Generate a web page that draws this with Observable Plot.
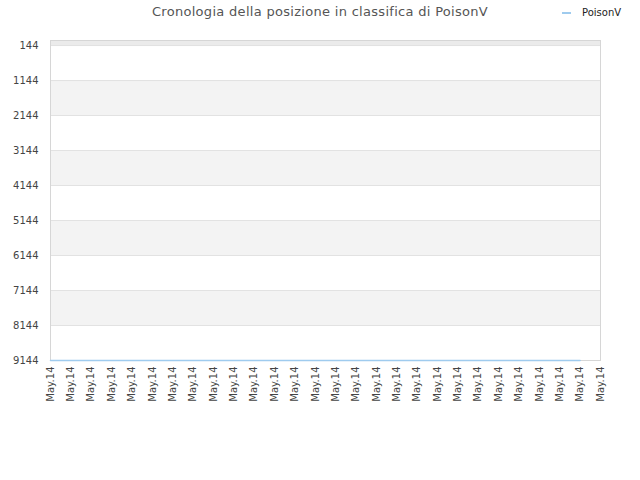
<!DOCTYPE html>
<html><head><meta charset="utf-8">
<script src="https://cdn.jsdelivr.net/npm/d3@7"></script>
<script src="https://cdn.jsdelivr.net/npm/@observablehq/plot@0.6"></script>
<style>
body{margin:0;background:#fff;font-family:"DejaVu Sans",sans-serif;}
#wrap{position:relative;width:640px;height:480px;}
#title{position:absolute;top:4px;left:0;width:640px;text-align:center;font-size:13px;letter-spacing:0.3px;color:#555;}
#legend{position:absolute;top:7px;left:562px;font-size:10px;color:#222;display:flex;align-items:center;}
#legend span.sw{display:inline-block;width:9px;height:2px;background:#9fcbee;margin-right:11px;}
#chart{position:absolute;top:0;left:0;}
</style></head>
<body>
<div id="wrap">
<div id="chart"></div>
<div id="title">Cronologia della posizione in classifica di PoisonV</div>
<div id="legend"><span class="sw"></span>PoisonV</div>
</div>
<script>
const xLabels = Array(28).fill("May.14");
const seriesName = "PoisonV";
const positions = [9144,9144,9144,9144,9144,9144,9144,9144,9144,9144,9144,9144,9144,9144,9144,9144,9144,9144,9144,9144,9144,9144,9144,9144,9144,9144,9144];
const yTicks = [144,1144,2144,3144,4144,5144,6144,7144,8144,9144];
const bandStarts = [0,1144,3144,5144,7144];
const bandEnds = [144,2144,4144,6144,8144];

const data = positions.map((v,i)=>({i, v}));
const bands = bandStarts.map((s,k)=>({y1:s, y2:bandEnds[k], top:k===0}));
const n = xLabels.length - 1;

const chart = Plot.plot({
  width:640, height:480,
  marginLeft:50, marginRight:40, marginTop:40, marginBottom:120,
  style:{fontFamily:"DejaVu Sans, sans-serif", fontSize:"10px", color:"#444", background:"#fff"},
  x:{type:"linear", domain:[0,n], ticks:d3.range(xLabels.length), tickFormat:i=>xLabels[i], tickRotate:-90, tickSize:0, tickPadding:6, label:null},
  y:{domain:[0,9144], reverse:true, ticks:yTicks, tickFormat:d3.format("d"), tickSize:0, tickPadding:12, label:null},
  marks:[
    Plot.rectY(bands,{x1:0, x2:n, y1:"y1", y2:"y2", fill:d=>d.top?"#ebebeb":"#f3f3f3"}),
    Plot.ruleY(yTicks,{stroke:"#e2e2e2", strokeWidth:1}),
    Plot.frame({stroke:"#d6d6d6"}),
    Plot.lineY(data,{x:"i", y:"v", stroke:"#9fcbee", strokeWidth:1.5})
  ]
});
document.getElementById("chart").appendChild(chart);
</script>
</body></html>
